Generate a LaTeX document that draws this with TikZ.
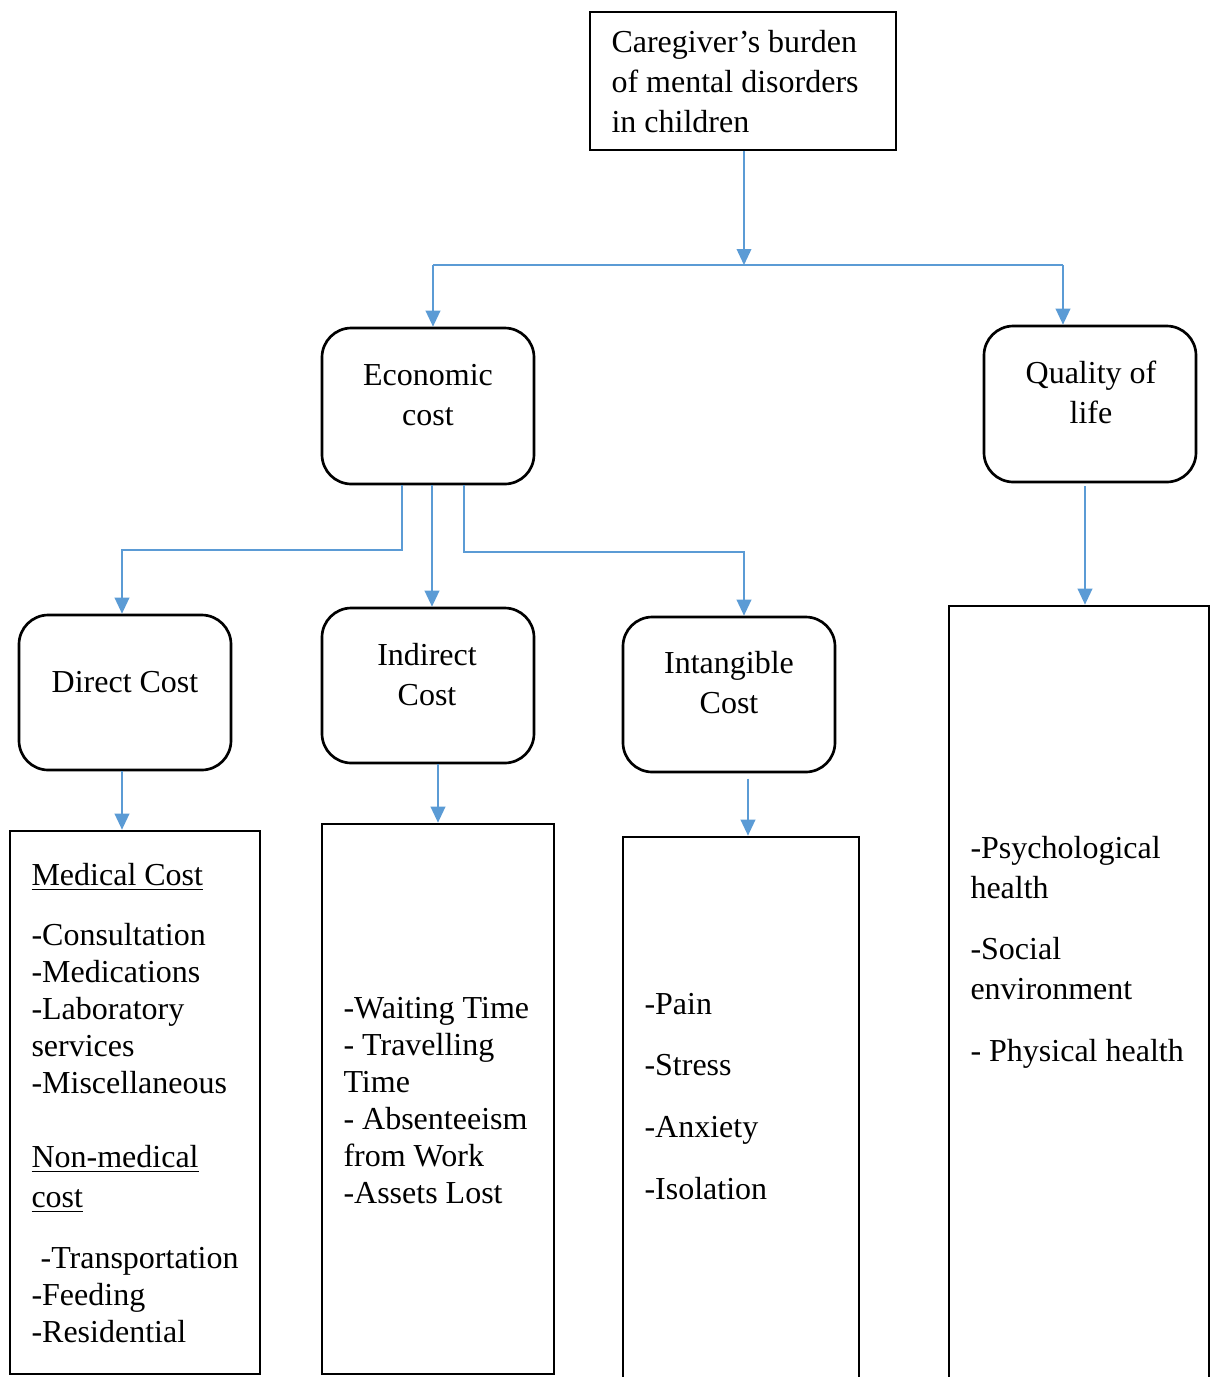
\documentclass[tikz,border=0pt]{standalone}
\usepackage{fontspec}
\setmainfont{Liberation Serif}
\usetikzlibrary{arrows.meta}
\definecolor{lineblue}{RGB}{91,155,213}
\begin{document}
\begin{tikzpicture}[x=0.375pt,y=-0.375pt,
  conn/.style={draw=lineblue, line width=0.6pt},
  arr/.style={conn, -{Triangle[width=5.5pt,length=6pt]}},
  rbox/.style={draw, line width=1pt, rounded corners=11pt, minimum width=79.5pt, minimum height=58.5pt, inner sep=0pt},
  sbox/.style={draw, line width=1pt, inner sep=0pt},
  txt/.style={inner sep=0pt, font=\fontsize{12}{13.875}\selectfont, align=left, anchor=base west},
  ctxt/.style={inner sep=0pt, font=\fontsize{12}{15}\selectfont, align=center, anchor=base}]
\clip (0,0) rectangle (1210,1377);
% boxes
\node[sbox, minimum width=114.75pt, minimum height=51.75pt] (top) at (743,81) {};
\node[rbox] (econ) at (428,406) {};
\node[rbox] (qol) at (1090,404) {};
\node[rbox, minimum height=58.125pt] (direct) at (125,692.5) {};
\node[rbox, minimum height=58.125pt] (indirect) at (428,685.5) {};
\node[rbox, minimum height=58.125pt] (intang) at (729,694.5) {};
\node[sbox, minimum width=93.75pt, minimum height=203.625pt] (lbox) at (135,1102.5) {};
\node[sbox, minimum width=87pt, minimum height=206.25pt] (ibox) at (438,1099) {};
\node[sbox, minimum width=88.5pt, minimum height=218.625pt] (tbox) at (741,1128.5) {};
\node[sbox, minimum width=97.5pt, minimum height=305.25pt] (rbig) at (1079,1013) {};
% texts (multi-line nodes: base = baseline of last line)
\node[txt, font=\fontsize{12}{15}\selectfont] (ttop) at (611,132) {Caregiver’s burden\\of mental disorders\\in children};
\node[ctxt] (tecon) at (428,425) {Economic\\cost};
\node[ctxt] (tqol) at (1091,423) {Quality of\\life};
\node[ctxt] (tdirect) at (125,692) {Direct Cost};
\node[ctxt] (tindirect) at (427,705) {Indirect\\Cost};
\node[ctxt] (tintang) at (729,713) {Intangible\\Cost};
\node[txt] (tl) at (31,1342) {\underline{Medical Cost}\\[8.6pt]-Consultation\\-Medications\\-Laboratory\\services\\-Miscellaneous\\[13.9pt]\underline{Non-medical}\\[1.1pt]\underline{cost}\\[9pt]\hspace*{3.4pt}-Transportation\\-Feeding\\-Residential};
\node[txt] (ti) at (343,1203) {-Waiting Time\\- Travelling\\Time\\- Absenteeism\\from Work\\-Assets Lost};
\node[txt, font=\fontsize{12}{23.1}\selectfont] (tt) at (644,1199) {-Pain\\-Stress\\-Anxiety\\-Isolation};
\node[txt, font=\fontsize{12}{15}\selectfont] (tr) at (970,1061) {-Psychological\\health\\[7.9pt]-Social\\environment\\[7.9pt]- Physical health};
% connectors
\coordinate (jM) at (744,265);
\coordinate (jL) at (433,265);
\coordinate (jR) at (1063,265);
\draw[arr] (top.south -| jM) -- (jM);
\draw[conn] (jL) -- (jR);
\draw[arr] (jL) -- (jL |- econ.north);
\draw[arr] (jR) -- (jR |- qol.north);
\coordinate (q1) at (1085,486);
\draw[arr] (q1) -- (q1 |- rbig.north);
\coordinate (e1) at (402,550);
\coordinate (e2) at (432,550);
\coordinate (e3) at (464,552);
\coordinate (e4) at (744,552);
\coordinate (d1) at (122,550);
\draw[arr] (econ.south -| e1) -- (e1) -- (d1) -- (d1 |- direct.north);
\draw[arr] (econ.south -| e2) -- (e2 |- indirect.north);
\draw[arr] (econ.south -| e3) -- (e3) -- (e4) -- (e4 |- intang.north);
\coordinate (a1) at (122,800);
\coordinate (a2) at (438,800);
\coordinate (a3) at (748,800);
\draw[arr] (direct.south -| a1) -- (a1 |- lbox.north);
\draw[arr] (indirect.south -| a2) -- (a2 |- ibox.north);
\draw[arr] ([yshift=-2pt]intang.south -| a3) -- (a3 |- tbox.north);
\end{tikzpicture}
\end{document}
